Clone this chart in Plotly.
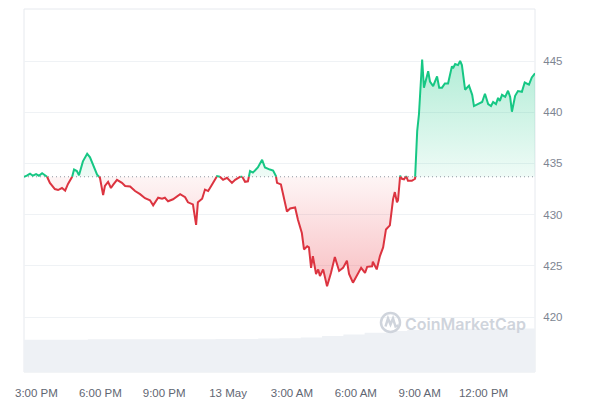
import numpy as np
import pandas as pd
import plotly.graph_objects as go

# ---------------- data ----------------
times = [
    "05-12 14:25", "05-12 14:33", "05-12 14:42", "05-12 14:50", "05-12 14:59", "05-12 15:07",
    "05-12 15:16", "05-12 15:24", "05-12 15:30", "05-12 15:38", "05-12 15:52", "05-12 16:01",
    "05-12 16:12", "05-12 16:21", "05-12 16:29", "05-12 16:40", "05-12 16:46", "05-12 16:54",
    "05-12 17:00", "05-12 17:11", "05-12 17:23", "05-12 17:31", "05-12 17:39", "05-12 17:51",
    "05-12 17:59", "05-12 18:08", "05-12 18:13", "05-12 18:22", "05-12 18:30", "05-12 18:36",
    "05-12 18:47", "05-12 19:01", "05-12 19:10", "05-12 19:24", "05-12 19:38", "05-12 19:52",
    "05-12 20:06", "05-12 20:20", "05-12 20:29", "05-12 20:43", "05-12 20:54", "05-12 21:02",
    "05-12 21:11", "05-12 21:25", "05-12 21:45", "05-12 21:59", "05-12 22:07", "05-12 22:21",
    "05-12 22:30", "05-12 22:35", "05-12 22:47", "05-12 22:55", "05-12 23:04", "05-12 23:15",
    "05-12 23:23", "05-12 23:29", "05-12 23:37", "05-12 23:46", "05-12 23:57", "05-13 00:11",
    "05-13 00:20", "05-13 00:28", "05-13 00:39", "05-13 00:48", "05-13 00:56", "05-13 01:02",
    "05-13 01:10", "05-13 01:24", "05-13 01:36", "05-13 01:44", "05-13 01:58", "05-13 02:07",
    "05-13 02:15", "05-13 02:18", "05-13 02:29", "05-13 02:35", "05-13 02:46", "05-13 02:55",
    "05-13 03:09", "05-13 03:17", "05-13 03:28", "05-13 03:34", "05-13 03:43", "05-13 03:48",
    "05-13 03:54", "05-13 03:59", "05-13 04:08", "05-13 04:14", "05-13 04:19", "05-13 04:28",
    "05-13 04:39", "05-13 04:50", "05-13 05:01", "05-13 05:13", "05-13 05:24", "05-13 05:35",
    "05-13 05:41", "05-13 05:52", "05-13 06:03", "05-13 06:15", "05-13 06:26", "05-13 06:32",
    "05-13 06:46", "05-13 06:48", "05-13 06:59", "05-13 07:08", "05-13 07:17", "05-13 07:25",
    "05-13 07:36", "05-13 07:45", "05-13 07:50", "05-13 07:56", "05-13 07:59", "05-13 08:05",
    "05-13 08:10", "05-13 08:16", "05-13 08:22", "05-13 08:27", "05-13 08:38", "05-13 08:47",
    "05-13 08:53", "05-13 08:58", "05-13 09:07", "05-13 09:12", "05-13 09:24", "05-13 09:29",
    "05-13 09:38", "05-13 09:49", "05-13 09:55", "05-13 10:03", "05-13 10:11", "05-13 10:20",
    "05-13 10:25", "05-13 10:31", "05-13 10:34", "05-13 10:40", "05-13 10:48", "05-13 10:54",
    "05-13 10:59", "05-13 11:08", "05-13 11:19", "05-13 11:28", "05-13 11:33", "05-13 11:42",
    "05-13 11:50", "05-13 11:56", "05-13 12:04", "05-13 12:13", "05-13 12:21", "05-13 12:27",
    "05-13 12:35", "05-13 12:41", "05-13 12:46", "05-13 12:52", "05-13 13:01", "05-13 13:09",
    "05-13 13:15", "05-13 13:20", "05-13 13:29", "05-13 13:37", "05-13 13:48", "05-13 13:56",
    "05-13 14:08", "05-13 14:16", "05-13 14:25",
]
prices = [
    433.7, 433.8, 434.0, 433.8, 433.95, 433.8,
    434.05, 433.85, 433.7, 433.1, 432.5, 432.4,
    432.6, 432.35, 433.0, 433.6, 434.4, 434.25,
    433.85, 435.2, 435.95, 435.6, 434.9, 433.9,
    433.6, 431.9, 432.8, 433.2, 432.6, 432.9,
    433.4, 433.1, 432.8, 432.75, 432.3, 432.0,
    431.6, 431.4, 430.9, 431.65, 431.55, 431.65,
    431.3, 431.5, 432.0, 431.7, 431.2, 431.0,
    429.0, 431.2, 431.55, 432.45, 432.3, 432.95,
    433.4, 433.76, 433.7, 433.4, 433.6, 433.1,
    433.4, 433.6, 433.76, 433.2, 433.25, 434.25,
    434.1, 434.6, 435.35, 434.6, 434.4, 434.3,
    433.76, 433.1, 432.95, 432.1, 430.3, 430.6,
    430.7, 429.5, 428.2, 426.6, 426.9, 426.8,
    424.8, 425.95, 424.2, 424.65, 424.0, 424.65,
    423.0, 424.3, 425.85, 424.5, 424.8, 425.5,
    424.2, 423.35, 424.0, 424.8, 424.3, 424.9,
    424.95, 425.4, 424.65, 425.95, 426.8, 428.55,
    428.95, 431.5, 432.2, 431.2, 431.4, 433.8,
    433.5, 433.45, 433.75, 433.3, 433.3, 433.5,
    438.15, 439.8, 445.15, 442.4, 444.0, 443.0,
    442.55, 443.5, 442.4, 442.4, 442.8, 442.8,
    443.7, 444.5, 444.3, 444.7, 444.6, 445.0,
    444.6, 442.2, 442.6, 441.7, 440.6, 440.75,
    440.9, 441.0, 441.8, 440.8, 440.6, 441.0,
    440.8, 441.4, 441.1, 441.7, 441.5, 442.1,
    441.5, 440.05, 441.6, 442.07, 442.0, 442.9,
    442.7, 443.4, 443.8,
]
volume_times = [
    "05-12 14:25", "05-12 15:25", "05-12 16:25", "05-12 17:25", "05-12 18:25", "05-12 19:25",
    "05-12 20:25", "05-12 21:25", "05-12 22:25", "05-12 23:25", "05-13 00:25", "05-13 01:25",
    "05-13 02:25", "05-13 03:25", "05-13 04:25", "05-13 05:25", "05-13 06:25", "05-13 07:25",
    "05-13 08:25", "05-13 09:25", "05-13 10:25", "05-13 11:25", "05-13 12:25", "05-13 13:25",
    "05-13 14:25",
]
volumes = [
    8.9, 8.9, 8.9, 9.0, 9.0, 9.0, 9.0, 9.0, 9.0, 9.1, 9.1, 9.2, 9.3,
    9.5, 9.9, 10.3, 10.8, 11.3, 11.6, 11.8, 11.9, 11.9, 12.0, 12.0, 12.0,
]
tick_times = ["05-12 15:00", "05-12 18:00", "05-12 21:00", "05-13 00:00",
              "05-13 03:00", "05-13 06:00", "05-13 09:00", "05-13 12:00"]
tick_labels = ["3:00 PM", "6:00 PM", "9:00 PM", "13 May",
               "3:00 AM", "6:00 AM", "9:00 AM", "12:00 PM"]
price_ticks = [420, 425, 430, 435, 440, 445]

YEAR = "2024-"
t = pd.to_datetime([YEAR + s for s in times])
vt = pd.to_datetime([YEAR + s for s in volume_times])
tt = pd.to_datetime([YEAR + s for s in tick_times])
p = np.array(prices, dtype=float)
base = p[0]

# insert base-crossing points so colours switch exactly at the reference line
tx, py = [t[0]], [p[0]]
for i in range(1, len(p)):
    a, b = p[i - 1] - base, p[i] - base
    if a * b < 0:
        f = -a / (b - a)
        tx.append(t[i - 1] + (t[i] - t[i - 1]) * f)
        py.append(base)
    tx.append(t[i])
    py.append(p[i])
py = np.array(py)
eps = 1e-9
up = np.maximum(py, base)
down = np.minimum(py, base)
green_line = [v if v >= base - eps else None for v in py]
red_line = [v if v <= base + eps else None for v in py]
base_arr = np.full(len(py), base)

GREEN = "#16c784"
RED = "#dc3440"

fig = go.Figure()

# volume (background)
fig.add_trace(go.Scatter(x=vt, y=volumes, yaxis="y2", mode="lines",
                         line=dict(width=0, shape="hv"), fill="tozeroy",
                         fillcolor="#eef1f5", hoverinfo="skip", showlegend=False))

# green fill
fig.add_trace(go.Scatter(x=tx, y=base_arr, mode="lines", line=dict(width=0),
                         hoverinfo="skip", showlegend=False))
fig.add_trace(go.Scatter(x=tx, y=up, mode="lines", line=dict(width=0), fill="tonexty",
                         fillgradient=dict(type="vertical", start=base, stop=p.max(),
                                           colorscale=[[0, "rgba(22,199,132,0.07)"],
                                                       [1, "rgba(22,199,132,0.33)"]]),
                         hoverinfo="skip", showlegend=False))
# red fill
fig.add_trace(go.Scatter(x=tx, y=base_arr, mode="lines", line=dict(width=0),
                         hoverinfo="skip", showlegend=False))
fig.add_trace(go.Scatter(x=tx, y=down, mode="lines", line=dict(width=0), fill="tonexty",
                         fillgradient=dict(type="vertical", start=p.min(), stop=base,
                                           colorscale=[[0, "rgba(234,57,67,0.32)"],
                                                       [1, "rgba(234,57,67,0.05)"]]),
                         hoverinfo="skip", showlegend=False))

# dotted reference line
fig.add_trace(go.Scatter(x=[t[0], t[-1]], y=[base, base], mode="lines",
                         line=dict(color="#8f96a1", width=1.2, dash="1px,3px"),
                         hoverinfo="skip", showlegend=False))

# price lines
fig.add_trace(go.Scatter(x=tx, y=green_line, mode="lines", connectgaps=False,
                         line=dict(color=GREEN, width=2), showlegend=False))
fig.add_trace(go.Scatter(x=tx, y=red_line, mode="lines", connectgaps=False,
                         line=dict(color=RED, width=2), showlegend=False))

# ---------------- layout (page has an 8px body margin) ----------------
OFF = 8
W, H = 600 - OFF, 400 - OFF
L, R, T, B = 24, 535, 9, 372          # plot area in page pixels
def px(x):
    return (x - L) / (R - L)
def py_(y):
    return (B - y) / (B - T)

shapes = [
    dict(type="rect", xref="paper", yref="paper", x0=0, x1=1, y0=0, y1=1,
         line=dict(color="#e6e9ee", width=1), layer="below"),
]
# watermark logo
cx, cy, r = 390.5, 322.5, 9.5
shapes.append(dict(type="circle", xref="paper", yref="paper",
                   x0=px(cx - r), x1=px(cx + r), y0=py_(cy + r), y1=py_(cy - r),
                   line=dict(color="#cfd4dc", width=2.5)))
mpts = [(cx - 5, cy + 4), (cx - 2.5, cy - 4), (cx, cy + 2), (cx + 2.5, cy - 4),
        (cx + 5, cy + 4), (cx + 8, cy + 3)]
path = "M " + " L ".join(f"{px(a):.5f},{py_(b):.5f}" for a, b in mpts)
shapes.append(dict(type="path", xref="paper", yref="paper", path=path,
                   line=dict(color="#cfd4dc", width=2.5)))

fig.update_layout(
    width=W, height=H,
    margin=dict(l=L - OFF, r=600 - R, t=T - OFF, b=400 - B, pad=0),
    paper_bgcolor="white", plot_bgcolor="white",
    font=dict(family="Liberation Sans, Arial, sans-serif", size=12, color="#58667e"),
    showlegend=False,
    xaxis=dict(type="date", range=[t[0], t[-1]], tickvals=tt, ticktext=tick_labels,
               showgrid=False, zeroline=False, showline=False,
               ticks="outside", ticklen=10, tickcolor="rgba(0,0,0,0)",
               tickfont=dict(size=11.5, color="#5f6672"), automargin=False),
    yaxis=dict(side="right", range=[414.63, 450.08], tickvals=price_ticks,
               showgrid=True, gridcolor="#eff2f5", gridwidth=1, zeroline=False,
               showline=False, ticks="outside", ticklen=5, tickcolor="rgba(0,0,0,0)",
               tickfont=dict(size=11.5, color="#7d8592"), automargin=False),
    yaxis2=dict(overlaying="y", range=[0, 100], visible=False, showgrid=False),
    shapes=shapes,
    annotations=[dict(text="CoinMarketCap", xref="paper", yref="paper",
                      x=px(465), y=py_(323.5), xanchor="center", yanchor="middle",
                      showarrow=False,
                      font=dict(family="Inter, sans-serif", size=16, color="#cfd4dc",
                                weight=600))],
)

fig.write_html("out.html")
